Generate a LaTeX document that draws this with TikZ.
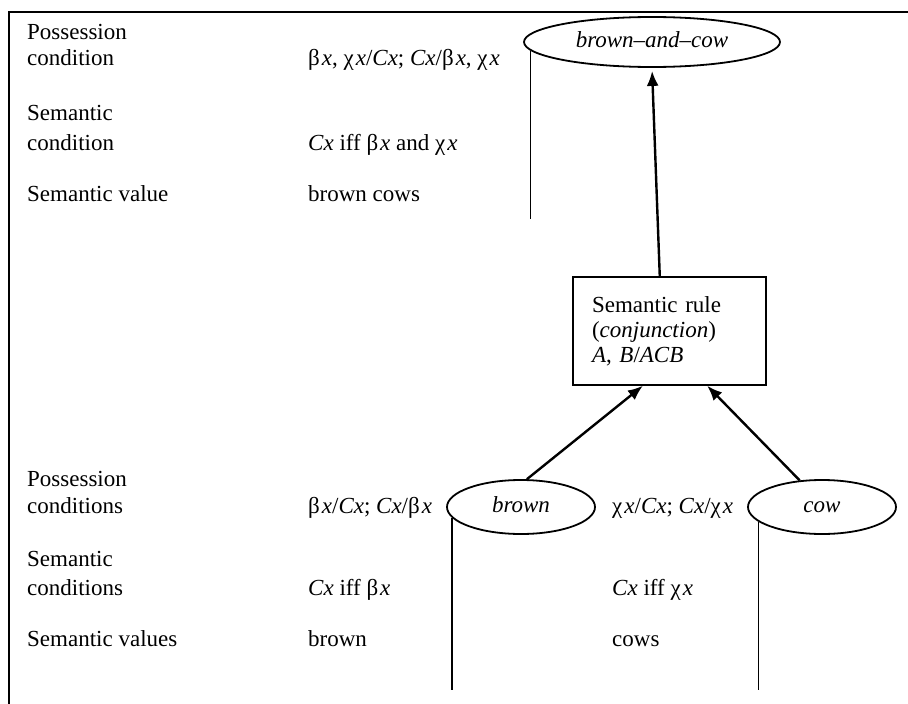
\documentclass[tikz,border=0pt]{standalone}
\usepackage{fontspec}
\setmainfont{Liberation Serif}
\usetikzlibrary{shapes.geometric,arrows.meta,calc}
\newcommand{\gbeta}{β\kern2pt}
\newcommand{\gchi}{χ\kern2pt}
\begin{document}
\begin{tikzpicture}[x=1pt,y=-1pt,
  font=\fontsize{23}{25}\selectfont,
  lab/.style={anchor=west, inner sep=0pt, text height=15pt, text depth=5pt},
  ell/.style={ellipse, draw, line width=1.8pt, minimum width=#1, inner sep=0pt, text height=15pt, text depth=5pt, font=\fontsize{23}{25}\selectfont\itshape},
  arr/.style={line width=2.4pt, -{Latex[length=15pt,width=12pt]}},
  stem/.style={line width=1.3pt},
  rulebox/.style={draw, line width=1.5pt, minimum width=193pt, minimum height=108pt, text width=155pt, align=left, inner sep=0pt}]
\useasboundingbox (0,0) rectangle (908,704);
% frame
\coordinate (fbl) at (9,704);
\coordinate (ftl) at (9,12);
\coordinate (ftr) at (908,12);
\draw[line width=1.6pt] (fbl) -- (ftl) -- (ftr);

% top block labels
\node[lab] (l1) at (27,34) {Possession};
\node[lab] (l2) at (27,60) {condition};
\node[lab] (l3) at (27,115) {Semantic};
\node[lab] (l4) at (27,145) {condition};
\node[lab] (l5) at (27,196) {Semantic value};
\node[lab] (m1) at (308,60) {\gbeta\textit{x}, \gchi\textit{x}/\textit{Cx}; \textit{Cx}/\gbeta\textit{x}, \gchi\textit{x}};
\node[lab] (m2) at (308,145) {\textit{Cx} iff \gbeta\textit{x} and \gchi\textit{x}};
\node[lab] (m3) at (308,196) {brown cows};

% bottom block labels
\node[lab] (b1) at (27,481) {Possession};
\node[lab] (b2) at (27,508) {conditions};
\node[lab] (b3) at (27,561) {Semantic};
\node[lab] (b4) at (27,590) {conditions};
\node[lab] (b5) at (27,641) {Semantic values};
\node[lab] (n1) at (308,508) {\gbeta\textit{x}/\textit{Cx}; \textit{Cx}/\gbeta\textit{x}};
\node[lab] (n2) at (308,590) {\textit{Cx} iff \gbeta\textit{x}};
\node[lab] (n3) at (308,641) {brown};
\node[lab] (k1) at (612,508) {\gchi\textit{x}/\textit{Cx}; \textit{Cx}/\gchi\textit{x}};
\node[lab] (k2) at (612,590) {\textit{Cx} iff \gchi\textit{x}};
\node[lab] (k3) at (612,641) {cows};

% ellipses
\node[ell=256pt, minimum height=50pt] (bac) at (652,42) {brown–and–cow};
\node[ell=148pt, minimum height=54pt] (brown) at (521,507) {brown};
\node[ell=148pt, minimum height=54pt] (cow) at (822,507) {cow};

% rule box
\node[rulebox] (rule) at (669.5,331) {Semantic rule\\(\textit{conjunction})\\\textit{A}, \textit{B}/\textit{ACB}};

% stems
\coordinate (bacend) at (0,219);
\coordinate (botend) at (0,690);
\draw[stem] (bac.184) -- (bac.184 |- bacend);
\draw[stem] (brown.189) -- (brown.189 |- botend);
\draw[stem] (cow.193) -- (cow.193 |- botend);

% arrows
\draw[arr, shorten >=3pt] ($(rule.north west)!0.45!(rule.north east)$) -- (bac.south);
\draw[arr] (brown.78) -- ($(rule.south west)!0.363!(rule.south east)$);
\draw[arr] (cow.130) -- ($(rule.south west)!0.694!(rule.south east)$);
\end{tikzpicture}
\end{document}
